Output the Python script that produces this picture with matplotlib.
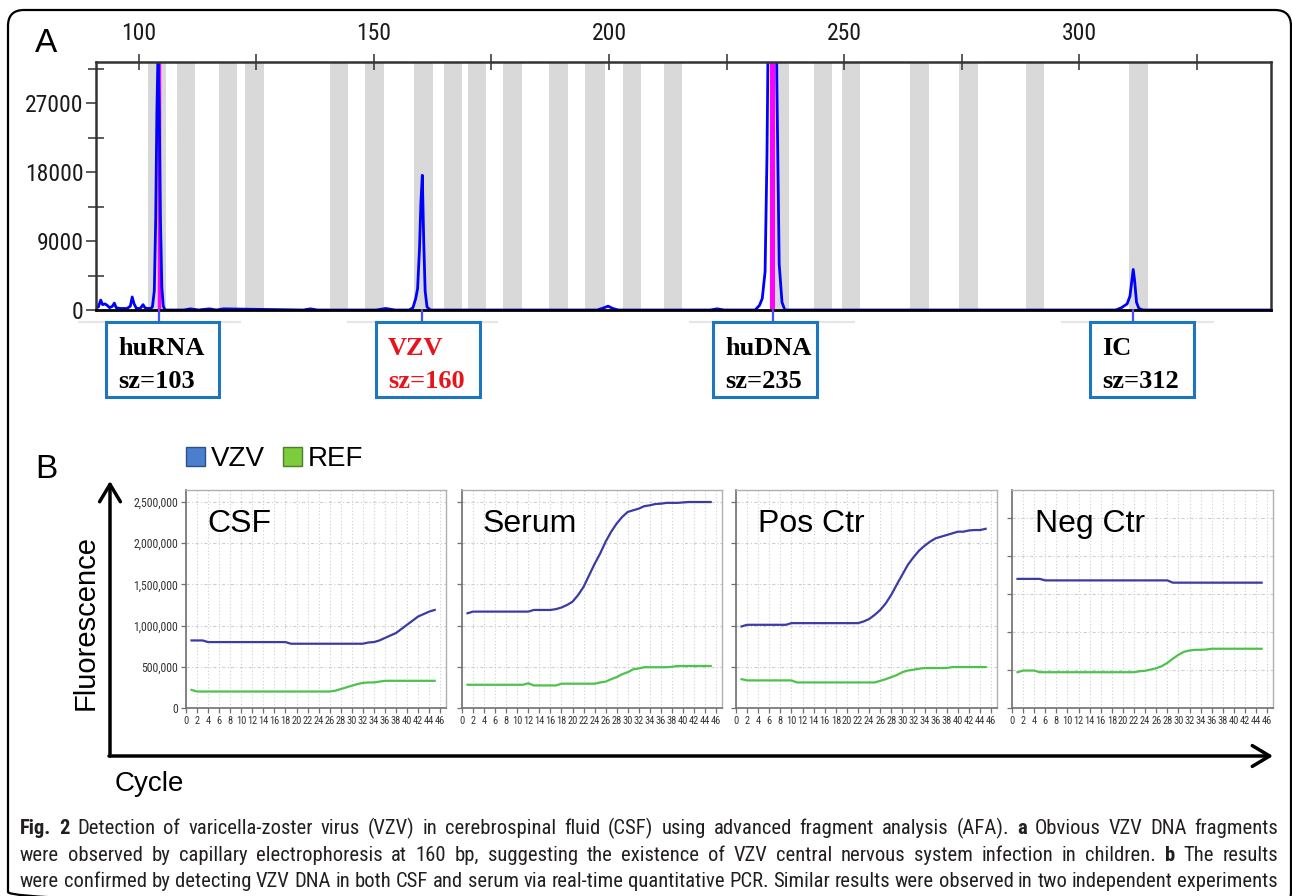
import matplotlib
matplotlib.use('Agg')
import matplotlib.pyplot as plt
from matplotlib import font_manager as fm
from matplotlib.patches import FancyBboxPatch, Rectangle
from matplotlib.transforms import blended_transform_factory

# ---------------- data: panel A (electropherogram) ----------------
bp_ticks = [100, 150, 200, 250, 300]
bp_minor = [125, 175, 225, 275, 325]
rfu_ticks = [0, 9000, 18000, 27000]
rfu_minor = [4500, 13500, 22500, 31500]

trace_bp = [90.9, 91.4, 91.9, 92.3, 92.8, 93.3, 93.8, 94.4, 94.8, 95.2, 96.0, 97.5,
            98.2, 98.6, 99.0, 99.5, 100.3, 100.9, 101.3, 101.8, 102.5, 102.9,
            103.3, 103.6, 103.85, 104.1, 104.35, 104.6, 104.9, 105.2, 105.6,
            109.5, 111.0, 112.7, 115.0, 116.5, 118.0, 135.0, 136.5, 138.0,
            150.5, 152.5, 154.5, 157.5, 158.3, 158.9, 159.3, 159.7, 160.0, 160.3,
            160.6, 160.9, 161.3, 162.0, 197.5, 199.0, 199.8, 200.8, 202.0,
            221.5, 223.0, 224.5, 231.1, 232.0, 232.6, 233.2, 233.6, 234.0, 234.3,
            235.3, 235.7, 236.2, 236.8, 237.4, 238.5, 307.8, 309.0, 310.2, 310.8,
            311.2, 311.5, 311.8, 312.2, 312.7, 313.6, 340.8]
trace_rfu = [300, 400, 1300, 700, 800, 600, 300, 500, 900, 300, 200, 200,
             500, 1700, 800, 200, 200, 700, 300, 200, 200, 400,
             2500, 12000, 26000, 34000, 26000, 12000, 3000, 500, 0,
             0, 150, 0, 150, 0, 150, 0, 150, 0,
             0, 200, 0, 0, 300, 1500, 2800, 8000, 14000, 17600,
             9000, 2500, 400, 0, 0, 300, 500, 200, 0,
             0, 150, 0, 0, 600, 1500, 5000, 20000, 45000, 60000,
             60000, 30000, 6000, 1000, 0, 0, 0, 300, 800, 1800,
             3800, 5300, 3800, 1000, 200, 0, 0]

bin_lo = [102.0, 108.1, 117.0, 122.6, 140.6, 148.2, 158.6, 164.9, 170.0, 177.4, 187.2,
          195.0, 202.9, 211.7, 234.2, 243.5, 249.6, 264.0, 274.5, 288.6, 310.7]
bin_hi = [105.7, 111.9, 120.9, 126.7, 144.4, 152.2, 162.5, 168.7, 173.8, 181.4, 191.3,
          199.1, 206.8, 215.6, 238.2, 247.5, 253.4, 268.0, 278.4, 292.6, 314.7]

marker_line_bp = 104.3
marker_span_bp = (234.2, 235.3)

peak_names = ['huRNA', 'VZV', 'huDNA', 'IC']
peak_sizes = [103, 160, 235, 312]
peak_pos_bp = [104.3, 160.3, 234.8, 311.5]
peak_text_colors = ['black', '#e8141b', 'black', 'black']

# ---------------- data: panel B (real-time PCR) ----------------
cycles = list(range(1, 46))
cycle_ticks = list(range(0, 47, 2))
fluor_ticks = [0, 500000, 1000000, 1500000, 2000000, 2500000]
sample_names = ['CSF', 'Serum', 'Pos Ctr', 'Neg Ctr']

csf_vzv = [820000] * 3 + [800000] * 15 + [780000] * 14 + [
    795000, 800000, 820000, 850000, 880000, 910000, 960000, 1010000, 1060000,
    1110000, 1140000, 1170000, 1190000]
csf_ref = [220000] + [200000] * 25 + [210000, 230000, 250000, 270000, 290000, 305000,
                                     310000, 310000, 320000] + [330000] * 10
serum_vzv = [1150000] + [1170000] * 11 + [1190000] * 4 + [
    1200000, 1220000, 1250000, 1290000, 1370000, 1470000, 1610000, 1750000, 1875000,
    2020000, 2140000, 2240000, 2320000, 2380000, 2400000, 2420000, 2450000, 2460000,
    2476000, 2480000, 2490000, 2490000, 2490000, 2495000] + [2500000] * 5
serum_ref = [282000] * 11 + [300000] + [274000] * 5 + [295000] * 7 + [
    310000, 320000, 350000, 375000, 410000, 435000, 470000, 480000] + [495000] * 5 + [
    500000] + [510000] * 7
pos_vzv = [990000] + [1010000] * 8 + [1030000] * 13 + [
    1050000, 1080000, 1130000, 1190000, 1270000, 1375000, 1500000, 1620000, 1740000,
    1830000, 1910000, 1970000, 2020000, 2060000, 2080000, 2100000, 2120000, 2140000,
    2140000, 2155000, 2160000, 2160000, 2175000]
pos_ref = [350000] + [335000] * 9 + [310000] * 15 + [
    330000, 350000, 375000, 400000, 435000, 455000, 465000, 477000] + [485000] * 5 + [
    497000] * 7
neg_vzv = [1700000] * 5 + [1680000] * 23 + [1650000] * 17
neg_ref = [471000] + [493000] * 3 + [471000] * 18 + [
    484000, 490000, 506000, 524000, 550000, 594000, 650000, 700000, 740000, 757000,
    766000, 766000, 770000] + [780000] * 10

vzv_series = [csf_vzv, serum_vzv, pos_vzv, neg_vzv]
ref_series = [csf_ref, serum_ref, pos_ref, neg_ref]

caption_lines = [
    [("Fig. 2", True),
     ("Detection of varicella-zoster virus (VZV) in cerebrospinal fluid (CSF) using advanced fragment analysis (AFA).", False),
     ("a", True), ("Obvious VZV DNA fragments", False)],
    [("were observed by capillary electrophoresis at 160 bp, suggesting the existence of VZV central nervous system infection in children.", False),
     ("b", True), ("The results", False)],
    [("were confirmed by detecting VZV DNA in both CSF and serum via real-time quantitative PCR. Similar results were observed in two independent experiments", False)],
]

# ---------------- fonts ----------------
SANS = 'Liberation Sans'
SERIF = 'Liberation Serif'


def pick_condensed():
    cands = [('Roboto Condensed', 'normal'), ('Roboto', 'condensed'),
             ('Open Sans Condensed', 'normal'), ('Open Sans', 'condensed'),
             ('Liberation Sans Narrow', 'normal'), ('DejaVu Sans', 'condensed'),
             ('DejaVu Sans Condensed', 'normal')]
    for fam, st in cands:
        try:
            p = fm.findfont(fm.FontProperties(family=fam, stretch=st),
                            fallback_to_default=False)
        except Exception:
            continue
        low = p.lower()
        if 'condensed' in low or 'narrow' in low:
            return fam, st
    return SANS, 'normal'


NARROW, NARROW_ST = pick_condensed()

# ---------------- figure ----------------
W, H = 1292, 896
fig = plt.figure(figsize=(W / 100, H / 100), dpi=100)
fig.patch.set_facecolor('white')


def rect(x0, y0, x1, y1):
    return [x0 / W, 1 - y1 / H, (x1 - x0) / W, (y1 - y0) / H]


ov = fig.add_axes([0, 0, 1, 1])
ov.set_xlim(0, W)
ov.set_ylim(H, 0)
ov.axis('off')
ov.set_zorder(10)
ov.patch.set_alpha(0)

ov.add_patch(FancyBboxPatch((8, 10), 1283, 898, boxstyle='round,pad=0,rounding_size=16',
                            fc='none', ec='black', lw=1.6))

# ---------------- panel A ----------------
axA = fig.add_axes(rect(96, 62, 1271, 310))
axA.set_xlim(90.9, 340.8)
axA.set_ylim(0, 32400)
for lo, hi in zip(bin_lo, bin_hi):
    axA.axvspan(lo, hi, color='#d9d9d9', lw=0, zorder=0)
axA.axvline(marker_line_bp, color='#ff00ff', lw=2.5, zorder=1)
axA.axvspan(*marker_span_bp, color='#ff00ff', lw=0, zorder=1)
axA.plot(trace_bp, trace_rfu, color='#0000ff', lw=2, zorder=2)
axA.xaxis.tick_top()
axA.set_xticks(bp_ticks)
axA.set_xticks(bp_minor, minor=True)
axA.set_yticks(rfu_ticks)
axA.set_yticks(rfu_minor, minor=True)
axA.tick_params(axis='x', which='both', direction='inout', length=12, width=1.2,
                color='#404040', pad=6)
axA.tick_params(axis='y', which='major', direction='out', length=7, width=1.2,
                color='#404040', pad=2)
axA.tick_params(axis='y', which='minor', direction='inout', length=12, width=1.2,
                color='#404040')
for lab in axA.get_xticklabels() + axA.get_yticklabels():
    lab.set_fontfamily(NARROW)
    lab.set_fontstretch(NARROW_ST)
    lab.set_fontsize(17 if NARROW != SANS else 15)
    lab.set_color('#1a1a1a')
for s in axA.spines.values():
    s.set_color('#333333')
    s.set_linewidth(1.8)
axA.spines['bottom'].set_color('black')
axA.spines['bottom'].set_linewidth(2)

# labels below peaks
tr_lbl = blended_transform_factory(axA.transData, ov.transData)
box_left = [106, 376, 713, 1090]
box_w = [113, 104, 104, 104]
guide_spans = [(79, 240), (348, 497), (690, 854), (1062, 1213)]
for i, name in enumerate(peak_names):
    g0, g1 = guide_spans[i]
    ov.plot([g0, g1], [322, 322], color='#e6e6e6', lw=1.5, zorder=1)
    ov.plot([peak_pos_bp[i], peak_pos_bp[i]], [310, 322], color='#4b4bff', lw=1.6,
            transform=tr_lbl, zorder=2)
    ov.add_patch(Rectangle((box_left[i], 322), box_w[i], 75, fc='white', ec='#1f76c0',
                           lw=2.2, zorder=3))
    ov.text(box_left[i] + 12, 355, name, fontsize=19, fontweight='bold', family=SERIF,
            color=peak_text_colors[i], va='baseline', ha='left', zorder=4)
    ov.text(box_left[i] + 12, 388, f'sz={peak_sizes[i]}', fontsize=19, fontweight='bold',
            family=SERIF, color=peak_text_colors[i], va='baseline', ha='left', zorder=4)

ov.text(35, 52, 'A', fontsize=24, family=SANS, va='baseline', ha='left')
ov.text(35, 478, 'B', fontsize=24, family=SANS, va='baseline', ha='left')

# ---------------- panel B ----------------
# legend
ov.add_patch(Rectangle((186, 447), 19, 19, fc='#4a7fd0', ec='#2d4f8a', lw=1))
ov.text(211, 466, 'VZV', fontsize=20, family=SANS, va='baseline', ha='left')
ov.add_patch(Rectangle((283, 447), 19, 19, fc='#7dcc3e', ec='#4d7f2b', lw=1))
ov.text(308, 466, 'REF', fontsize=20, family=SANS, va='baseline', ha='left')

# big axes arrows
ov.annotate('', xy=(110, 481), xytext=(110, 756),
            arrowprops=dict(arrowstyle='->,head_length=0.5,head_width=0.3', lw=2.5,
                            color='black', shrinkA=0, shrinkB=0, mutation_scale=25))
ov.annotate('', xy=(1273, 756), xytext=(109, 756),
            arrowprops=dict(arrowstyle='->,head_length=0.5,head_width=0.3', lw=2.5,
                            color='black', shrinkA=0, shrinkB=0, mutation_scale=25))
ov.text(86, 623, 'Fluorescence', fontsize=21, family=SANS, rotation=90, va='center',
        ha='center')
ov.text(115, 791, 'Cycle', fontsize=20, family=SANS, va='baseline', ha='left')

panel_x = [(186, 446), (462, 722), (736, 997), (1012, 1273)]
panel_ytop = [2646000, 2646000, 2646000, 2870000]
name_x = [207, 483, 758, 1035]
for i in range(4):
    x0, x1 = panel_x[i]
    ax = fig.add_axes(rect(x0, 490, x1, 708))
    ax.set_xlim(0.2, 47.05)
    ax.set_ylim(0, panel_ytop[i])
    ax.set_xticks(cycle_ticks)
    ax.set_xticklabels([str(c) for c in cycle_ticks], fontsize=7.5, family=NARROW,
                       fontstretch=NARROW_ST, color='#333333')
    ax.set_yticks(fluor_ticks)
    if i == 0:
        ax.set_yticklabels([f'{v:,}' for v in fluor_ticks], fontsize=8.5, family=NARROW,
                           fontstretch=NARROW_ST, color='#333333')
    else:
        ax.set_yticklabels([])
    ax.tick_params(axis='both', direction='out', length=3.5, width=0.9, color='#707070',
                   pad=2)
    ax.grid(True, axis='x', color='#cfcfcf', lw=0.8, ls=(0, (1, 2)))
    ax.grid(True, axis='y', color='#cfcfcf', lw=0.8, ls=(0, (3, 2, 1, 2)))
    ax.set_axisbelow(True)
    for side in ['top', 'right']:
        ax.spines[side].set_color('#b0b0b0')
        ax.spines[side].set_linewidth(1)
    for side in ['left', 'bottom']:
        ax.spines[side].set_color('#707070')
        ax.spines[side].set_linewidth(1.2)
    ax.plot(cycles, vzv_series[i], color='#3b3ba6', lw=1.6)
    ax.plot(cycles, ref_series[i], color='#4dc24d', lw=1.6)
    ov.text(name_x[i], 532, sample_names[i], fontsize=23, family=SANS, va='baseline',
            ha='left')

# ---------------- caption (justified) ----------------
renderer = fig.canvas.get_renderer()
CAP_X0, CAP_X1 = 20, 1278
cap_base = [834, 861, 887]


def make_words(line, fs):
    items = []
    for txt, bold in line:
        for w in txt.split():
            t = ov.text(0, 0, w, fontsize=fs, fontweight='bold' if bold else 'normal',
                        family=NARROW, fontstretch=NARROW_ST, color='#231f20',
                        va='baseline', ha='left')
            items.append((t, t.get_window_extent(renderer=renderer).width))
    return items


# choose font size so the widest line fits with natural spacing
trial = 13
probe = make_words(caption_lines[2], trial)
t2 = ov.text(0, 0, 'a a', fontsize=trial, family=NARROW, fontstretch=NARROW_ST)
t1 = ov.text(0, 0, 'aa', fontsize=trial, family=NARROW, fontstretch=NARROW_ST)
sp_w = t2.get_window_extent(renderer=renderer).width - t1.get_window_extent(
    renderer=renderer).width
nat = sum(w for _, w in probe) + sp_w * (len(probe) - 1)
for t, _ in probe:
    t.remove()
t1.remove()
t2.remove()
fs_cap = min(17, trial * (CAP_X1 - CAP_X0) / nat * 0.995)

for li, line in enumerate(caption_lines):
    items = make_words(line, fs_cap)
    total = sum(w for _, w in items)
    gap = (CAP_X1 - CAP_X0 - total) / (len(items) - 1)
    x = CAP_X0
    for t, w in items:
        t.set_position((x, cap_base[li]))
        x += w + gap

fig.savefig('out.png', dpi=100)
